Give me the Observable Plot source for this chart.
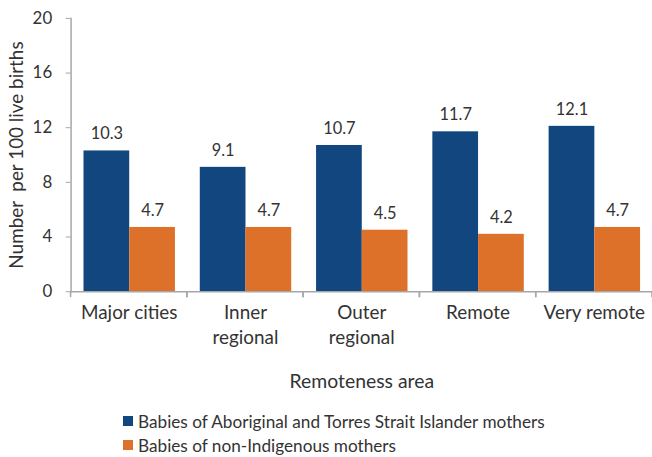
<!DOCTYPE html>
<html><head><meta charset="utf-8">
<script src="https://cdn.jsdelivr.net/npm/d3@7"></script>
<script src="https://cdn.jsdelivr.net/npm/@observablehq/plot@0.6"></script>
<style>
body{margin:0;background:#fff;overflow:hidden;font-family:Lato,sans-serif;position:relative;width:652px;height:457px;}
#legend{position:absolute;left:123px;top:409px;font-size:17.2px;color:#333;}
.row{display:flex;align-items:center;height:24px;}
.sw{width:10px;height:10px;margin-right:5px;}
</style></head><body><div id="chart"></div><div id="legend"></div>
<script>
const categories = ["Major cities","Inner regional","Outer regional","Remote","Very remote"];
const categoryLabels = ["Major cities","Inner\nregional","Outer\nregional","Remote","Very remote"];
const series = ["Babies of Aboriginal and Torres Strait Islander mothers","Babies of non-Indigenous mothers"];
const indigenousValues = [10.3,9.1,10.7,11.7,12.1];
const nonIndigenousValues = [4.7,4.7,4.5,4.2,4.7];
const yTicks = [0,4,8,12,16,20];
const colors = ["#11467e","#de7129"];
const yTitle = "Number\u00a0 per 100 live births";
const xTitle = "Remoteness area";

const data = categories.flatMap((c,i)=>[
  {cat:c, s:series[0], v:indigenousValues[i]},
  {cat:c, s:series[1], v:nonIndigenousValues[i]}
]);
const axisGrey = "#a6a6a6";
const textCol = "#333";

const edgeTicks = (index, scales, values, dim) => {
  const g = d3.create("svg:g").attr("stroke", axisGrey).attr("stroke-width", 1.5);
  const y0 = scales.y(0);
  for (const xx of [dim.marginLeft, dim.width - dim.marginRight]) {
    g.append("line").attr("x1", xx).attr("x2", xx).attr("y1", y0).attr("y2", y0 + 6);
  }
  return g.node();
};

const chart = Plot.plot({
  width: 656, height: 400,
  marginLeft: 71, marginRight: 0, marginTop: 18, marginBottom: 107,
  style: {fontFamily: "Lato, sans-serif", fontSize: "16px", color: textCol, background: "#fff"},
  fx: {domain: categories, padding: 0},
  x: {domain: series, paddingInner: 0, paddingOuter: 0.245},
  y: {domain: [0, 20]},
  color: {domain: series, range: colors},
  marks: [
    Plot.barY(data, {fx: "cat", x: "s", y: "v", fill: "s"}),
    Plot.text(data, {fx: "cat", x: "s", y: "v", text: d => d.v.toFixed(1), dy: -17, fontSize: 16.5, fill: textCol}),
    Plot.ruleY([0], {stroke: axisGrey, strokeWidth: 1.5}),
    Plot.frame({anchor: "left", facetAnchor: "left", stroke: axisGrey, strokeWidth: 1.5}),
    Plot.axisY({ticks: yTicks, tickSize: 5, tickPadding: 14, fontSize: 17, stroke: axisGrey, fill: textCol, label: null}),
    Plot.text([yTitle], {frameAnchor: "left", textAnchor: "middle", lineAnchor: "middle", rotate: -90, dx: -54,
      fontSize: 19, fill: textCol, facetAnchor: "left"}),
    Plot.axisFx({anchor: "bottom", tickSize: 0, tickPadding: 10, fontSize: 19, lineHeight: 1.3, fill: textCol,
      tickFormat: c => categoryLabels[categories.indexOf(c)], label: null}),
    Plot.axisFx({anchor: "bottom", ticks: [], fontSize: 19.5, fill: textCol,
      label: xTitle, labelAnchor: "center", labelOffset: 97}),
    Plot.axisX({ticks: [], label: null}),
    edgeTicks
  ]
});
document.getElementById("chart").append(chart);

const legend = document.getElementById("legend");
series.forEach((s, i) => {
  const row = document.createElement("div"); row.className = "row";
  const sw = document.createElement("span"); sw.className = "sw"; sw.style.background = colors[i];
  const t = document.createElement("span"); t.textContent = s;
  row.append(sw, t); legend.append(row);
});
</script></body></html>
